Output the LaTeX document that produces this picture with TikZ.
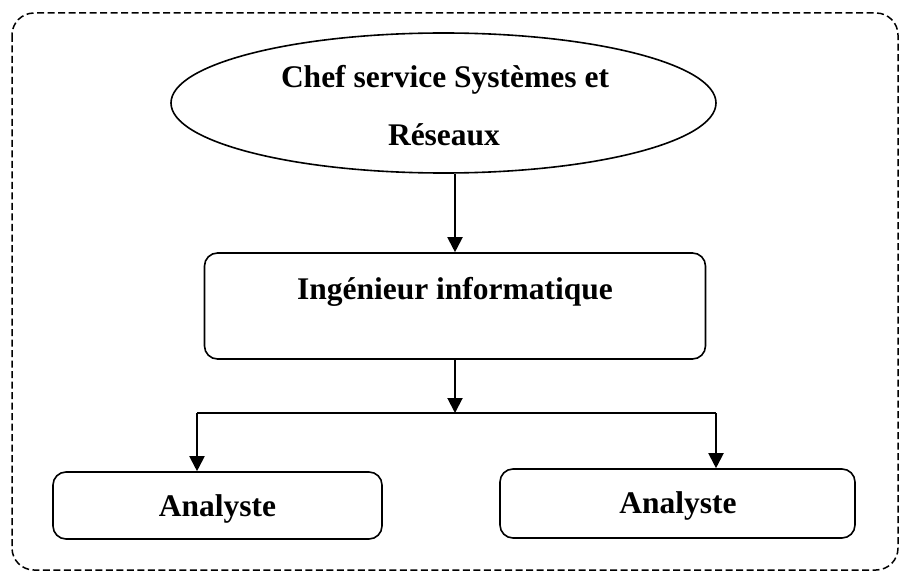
\documentclass[tikz,border=0pt]{standalone}
\usepackage{fontspec}
\setmainfont{Liberation Serif}
\usetikzlibrary{arrows.meta,shapes.geometric,calc}
\begin{document}
\begin{tikzpicture}[x=1pt,y=-1pt,
  boxstyle/.style={draw,line width=1.6pt,rounded corners=13pt,inner sep=0pt},
  ovalstyle/.style={draw,ellipse,line width=1.6pt,inner sep=0pt},
  lbl/.style={font=\fontsize{31.5}{37}\selectfont\bfseries,inner sep=0pt,anchor=base},
  arr/.style={line width=2pt,-{Triangle[width=15pt,length=15pt]}},
  link/.style={line width=2pt},
  frame/.style={draw,line width=1.5pt,dash pattern=on 7pt off 3.5pt,rounded corners=22pt}]
\useasboundingbox (0,0) rectangle (902,572);
\draw[frame] (12,13) rectangle (898,570);
% nodes
\node[ovalstyle,minimum width=545pt,minimum height=140pt] (chef) at (443.5,103) {};
\node[lbl] (chefa) at (445,88) {Chef service Systèmes et};
\node[lbl] (chefb) at (444,146) {Réseaux};
\node[boxstyle,minimum width=501pt,minimum height=106pt] (main) at (455,306) {};
\node[lbl] (maint) at (455,299) {Ingénieur informatique};
\node[boxstyle,minimum width=329pt,minimum height=67pt] (left) at (217.5,505.5) {};
\node[lbl] (leftt) at (217.5,516) {Analyste};
\node[boxstyle,minimum width=355pt,minimum height=69pt] (right) at (677.5,503.5) {};
\node[lbl] (rightt) at (678,513) {Analyste};
% connectors
\coordinate (j) at (455,413);
\coordinate (jl) at (197,413);
\coordinate (jr) at (716,413);
\draw[arr] (chef.south -| main.north) -- (main.north);
\draw[arr] (main.south) -- (j);
\draw[link] (jl) -- (jr);
\draw[arr] (jl) -- (jl |- left.north);
\draw[arr] (jr) -- (jr |- right.north);
\end{tikzpicture}
\end{document}
